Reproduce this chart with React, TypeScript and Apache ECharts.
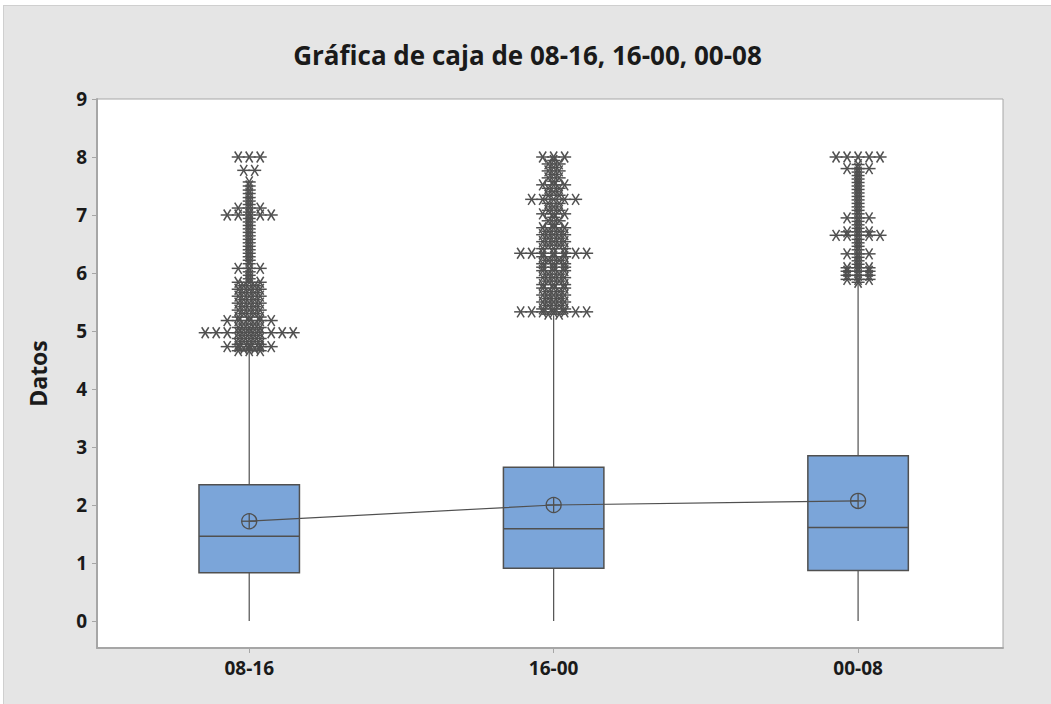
import React, { useEffect, useRef } from "react";
import * as echarts from "echarts";

const title = "Gráfica de caja de 08-16, 16-00, 00-08";
const yAxisName = "Datos";
const categories = ["08-16", "16-00", "00-08"];
const yTicks = [0, 1, 2, 3, 4, 5, 6, 7, 8, 9];

const whiskerLow = [0, 0, 0];
const q1 = [0.83, 0.91, 0.87];
const median = [1.46, 1.59, 1.61];
const q3 = [2.35, 2.65, 2.85];
const whiskerHigh = [4.65, 5.27, 5.82];
const means = [1.72, 2.0, 2.07];

// outliers: [value, number of points at that value]
const outliers0816: number[][] = [
  [8.0, 3], [7.77, 2], [7.57, 1], [7.5, 1], [7.43, 1], [7.37, 1], [7.3, 1], [7.24, 1],
  [7.18, 1], [7.12, 3], [7.05, 1], [7.0, 5], [6.94, 1], [6.88, 1], [6.82, 1], [6.76, 1],
  [6.7, 1], [6.64, 1], [6.58, 1], [6.52, 1], [6.46, 1], [6.4, 1], [6.34, 1], [6.28, 1],
  [6.22, 1], [6.16, 1], [6.08, 3], [6.02, 1], [5.96, 1], [5.9, 1], [5.84, 3], [5.78, 2],
  [5.72, 3], [5.66, 2], [5.6, 3], [5.54, 2], [5.48, 3], [5.42, 2], [5.36, 3], [5.3, 2],
  [5.24, 3], [5.18, 5], [5.12, 2], [5.06, 3], [5.02, 2], [4.97, 9], [4.92, 2], [4.87, 3],
  [4.82, 2], [4.77, 3], [4.73, 5], [4.69, 2], [4.66, 3],
];
const outliers1600: number[][] = [
  [8.0, 3], [7.94, 1], [7.88, 2], [7.82, 1], [7.76, 2], [7.7, 1], [7.64, 2], [7.58, 1],
  [7.52, 3], [7.46, 2], [7.4, 1], [7.34, 2], [7.27, 5], [7.2, 2], [7.14, 1], [7.08, 2],
  [7.02, 3], [6.96, 1], [6.9, 2], [6.84, 1], [6.78, 3], [6.72, 2], [6.66, 3], [6.6, 2],
  [6.54, 3], [6.48, 2], [6.42, 3], [6.34, 7], [6.28, 3], [6.22, 2], [6.16, 3], [6.1, 3],
  [6.04, 3], [5.98, 2], [5.92, 3], [5.86, 2], [5.8, 3], [5.74, 3], [5.68, 2], [5.62, 3],
  [5.56, 2], [5.5, 3], [5.44, 2], [5.38, 3], [5.33, 7], [5.29, 2],
];
const outliers0008: number[][] = [
  [8.0, 5], [7.87, 1], [7.8, 3], [7.74, 1], [7.68, 1], [7.62, 1], [7.56, 1], [7.5, 1],
  [7.44, 1], [7.38, 1], [7.32, 1], [7.26, 1], [7.2, 1], [7.14, 1], [7.08, 1], [7.02, 1],
  [6.95, 3], [6.89, 1], [6.83, 1], [6.77, 1], [6.71, 3], [6.65, 5], [6.58, 1], [6.52, 1],
  [6.46, 1], [6.4, 1], [6.33, 3], [6.27, 1], [6.21, 1], [6.15, 1], [6.09, 3], [6.03, 3],
  [5.96, 3], [5.89, 3], [5.84, 1],
];

const outlierSets = [outliers0816, outliers1600, outliers0008];

const STROKE = "#505050";
const BOX_FILL = "#7BA5D9";
const HALF = 0.165;
const STEP_PX = 11;
const FONT = "'Open Sans', 'Noto Sans', sans-serif";

export default function App() {
  const ref = useRef<HTMLDivElement>(null);

  useEffect(() => {
    if (!ref.current) return;
    const chart = echarts.init(ref.current, undefined, { renderer: "svg" });

    const boxData = categories.map((_, i) => [i, whiskerLow[i], q1[i], median[i], q3[i], whiskerHigh[i]]);
    const outlierData: number[][] = [];
    outlierSets.forEach((set, i) => {
      set.forEach(([v, n]) => {
        for (let k = 0; k < n; k++) outlierData.push([i, v, k - (n - 1) / 2]);
      });
    });
    const meanData = means.map((m, i) => [i, m]);

    const option: any = {
      animation: false,
      backgroundColor: "#e5e5e5",
      title: {
        text: title,
        left: "center",
        top: 31,
        textStyle: { fontFamily: FONT, fontWeight: "bold", fontSize: 26, color: "#1a1a1a" },
      },
      grid: {
        left: 93,
        top: 93,
        width: 906,
        height: 549,
        show: true,
        backgroundColor: "#ffffff",
        borderColor: "#a6a6a6",
        borderWidth: 1,
      },
      xAxis: {
        type: "value",
        min: -0.5,
        max: 2.476,
        axisLine: { show: true, onZero: false, lineStyle: { color: "#a6a6a6", width: 2 } },
        axisTick: { show: true, customValues: [0, 1, 2], length: 5, lineStyle: { color: "#a6a6a6" } },
        axisLabel: {
          customValues: [0, 1, 2],
          formatter: (v: number) => categories[Math.round(v)],
          fontFamily: FONT,
          fontWeight: "bold",
          fontSize: 19,
          color: "#1a1a1a",
          margin: 10,
        },
        splitLine: { show: false },
      },
      yAxis: {
        type: "value",
        min: -0.466,
        max: 9,
        name: yAxisName,
        nameLocation: "middle",
        nameGap: 48,
        nameTextStyle: { fontFamily: FONT, fontWeight: "bold", fontSize: 23, color: "#1a1a1a" },
        axisLine: { show: true, onZero: false, lineStyle: { color: "#a6a6a6", width: 2 } },
        axisTick: { show: true, customValues: yTicks, length: 5, lineStyle: { color: "#a6a6a6" } },
        axisLabel: {
          customValues: yTicks,
          fontFamily: FONT,
          fontWeight: "bold",
          fontSize: 19,
          color: "#1a1a1a",
          margin: 10,
        },
        splitLine: { show: false },
      },
      series: [
        {
          type: "custom",
          name: "box",
          data: boxData,
          encode: { x: 0, y: [1, 2, 3, 4, 5] },
          z: 2,
          renderItem: (_p: any, api: any) => {
            const i = api.value(0);
            const lo = api.coord([i, api.value(1)]);
            const b1 = api.coord([i - HALF, api.value(2)]);
            const md = api.coord([i, api.value(3)]);
            const b3 = api.coord([i + HALF, api.value(4)]);
            const hi = api.coord([i, api.value(5)]);
            return {
              type: "group",
              children: [
                { type: "line", shape: { x1: lo[0], y1: lo[1], x2: lo[0], y2: b1[1] }, style: { stroke: STROKE, lineWidth: 1.2 } },
                { type: "line", shape: { x1: hi[0], y1: hi[1], x2: hi[0], y2: b3[1] }, style: { stroke: STROKE, lineWidth: 1.2 } },
                {
                  type: "rect",
                  shape: { x: b1[0], y: b3[1], width: b3[0] - b1[0], height: b1[1] - b3[1] },
                  style: { fill: BOX_FILL, stroke: STROKE, lineWidth: 1.5 },
                },
                { type: "line", shape: { x1: b1[0], y1: md[1], x2: b3[0], y2: md[1] }, style: { stroke: STROKE, lineWidth: 1.5 } },
              ],
            };
          },
        },
        {
          type: "line",
          name: "mean",
          data: meanData,
          symbol: "none",
          z: 3,
          lineStyle: { color: STROKE, width: 1.2 },
        },
        {
          type: "custom",
          name: "meanMarker",
          data: meanData,
          encode: { x: 0, y: 1 },
          z: 4,
          renderItem: (_p: any, api: any) => {
            const c = api.coord([api.value(0), api.value(1)]);
            const r = 7.5;
            return {
              type: "group",
              children: [
                { type: "circle", shape: { cx: c[0], cy: c[1], r }, style: { fill: "none", stroke: STROKE, lineWidth: 1.3 } },
                { type: "line", shape: { x1: c[0] - r, y1: c[1], x2: c[0] + r, y2: c[1] }, style: { stroke: STROKE, lineWidth: 1.3 } },
                { type: "line", shape: { x1: c[0], y1: c[1] - r, x2: c[0], y2: c[1] + r }, style: { stroke: STROKE, lineWidth: 1.3 } },
              ],
            };
          },
        },
        {
          type: "custom",
          name: "outliers",
          data: outlierData,
          encode: { x: 0, y: 1 },
          z: 5,
          renderItem: (_p: any, api: any) => {
            const c = api.coord([api.value(0), api.value(1)]);
            const x = c[0] + api.value(2) * STEP_PX;
            const y = c[1];
            const st = { stroke: STROKE, lineWidth: 1.5 };
            return {
              type: "group",
              children: [
                { type: "line", shape: { x1: x - 6.5, y1: y, x2: x + 6.5, y2: y }, style: st },
                { type: "line", shape: { x1: x - 3.5, y1: y - 5.5, x2: x + 3.5, y2: y + 5.5 }, style: st },
                { type: "line", shape: { x1: x + 3.5, y1: y - 5.5, x2: x - 3.5, y2: y + 5.5 }, style: st },
              ],
            };
          },
        },
      ],
    };

    chart.setOption(option);
    return () => chart.dispose();
  }, []);

  return (
    <div style={{ position: "absolute", left: 0, top: 0, width: 1051, height: 704, background: "#ffffff", overflow: "hidden" }}>
      <div
        ref={ref}
        style={{
          position: "absolute",
          left: 3,
          top: 5,
          width: 1048,
          height: 699,
          borderLeft: "1px solid #cfcfcf",
          borderTop: "1px solid #cfcfcf",
          boxSizing: "border-box",
        }}
      />
    </div>
  );
}
